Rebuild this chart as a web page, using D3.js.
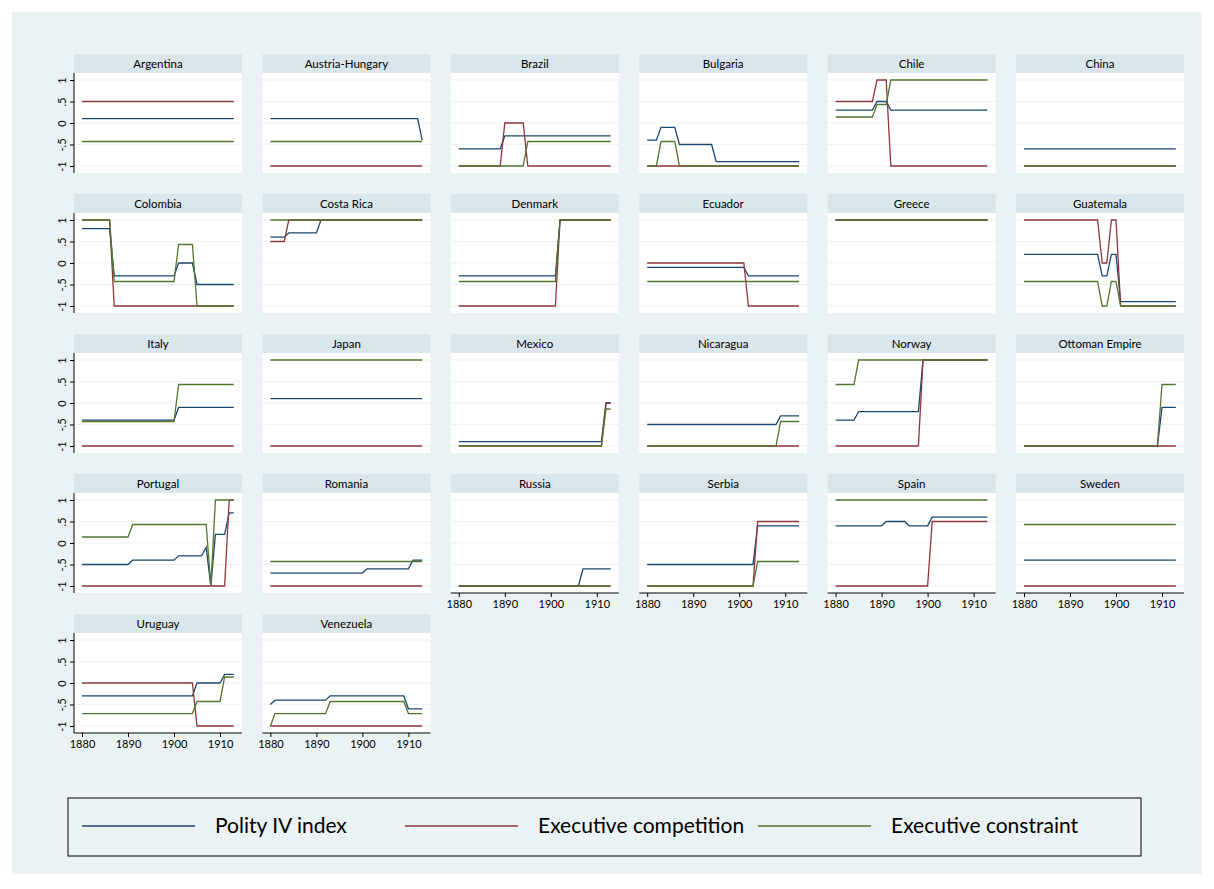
<!DOCTYPE html>
<head>
  <meta charset="utf-8">
  <script src="https://d3js.org/d3.v7.min.js"></script>
  <style>
    body { margin:0; background:#fff; }
    text { font-family: Lato, "Open Sans", sans-serif; }
  </style>
</head>
<body>
<script>
// panels, in the order they are drawn (6 per row)
var countries = ["Argentina","Austria-Hungary","Brazil","Bulgaria","Chile","China",
  "Colombia","Costa Rica","Denmark","Ecuador","Greece","Guatemala",
  "Italy","Japan","Mexico","Nicaragua","Norway","Ottoman Empire",
  "Portugal","Romania","Russia","Serbia","Spain","Sweden",
  "Uruguay","Venezuela"];

// each series is a list of runs: [fromYear, toYear, value]
var polity = [
  [[1880,1913,0.1]],
  [[1880,1912,0.1],[1913,1913,-0.4]],
  [[1880,1889,-0.6],[1890,1913,-0.3]],
  [[1880,1882,-0.4],[1883,1886,-0.1],[1887,1894,-0.5],[1895,1913,-0.9]],
  [[1880,1888,0.3],[1889,1891,0.5],[1892,1913,0.3]],
  [[1880,1913,-0.6]],
  [[1880,1886,0.8],[1887,1900,-0.3],[1901,1904,0],[1905,1913,-0.5]],
  [[1880,1883,0.6],[1884,1890,0.7],[1891,1913,1]],
  [[1880,1901,-0.3],[1902,1913,1]],
  [[1880,1901,-0.1],[1902,1913,-0.3]],
  [[1880,1913,1]],
  [[1880,1896,0.2],[1897,1898,-0.3],[1899,1900,0.2],[1901,1913,-0.9]],
  [[1880,1900,-0.4],[1901,1913,-0.1]],
  [[1880,1913,0.1]],
  [[1880,1911,-0.9],[1912,1913,0]],
  [[1880,1908,-0.5],[1909,1913,-0.3]],
  [[1880,1884,-0.4],[1885,1898,-0.2],[1899,1913,1]],
  [[1880,1909,-1],[1910,1913,-0.1]],
  [[1880,1890,-0.5],[1891,1900,-0.4],[1901,1906,-0.3],[1907,1907,-0.1],[1908,1908,-1],[1909,1911,0.2],[1912,1913,0.7]],
  [[1880,1900,-0.7],[1901,1910,-0.6],[1911,1913,-0.4]],
  [[1880,1906,-1],[1907,1913,-0.6]],
  [[1880,1903,-0.5],[1904,1913,0.4]],
  [[1880,1890,0.4],[1891,1895,0.5],[1896,1900,0.4],[1901,1913,0.6]],
  [[1880,1913,-0.4]],
  [[1880,1904,-0.3],[1905,1910,0],[1911,1913,0.2]],
  [[1880,1880,-0.5],[1881,1892,-0.4],[1893,1909,-0.3],[1910,1913,-0.6]]
];

var execComp = [
  [[1880,1913,0.5]],
  [[1880,1913,-1]],
  [[1880,1889,-1],[1890,1894,0],[1895,1913,-1]],
  [[1880,1913,-1]],
  [[1880,1888,0.5],[1889,1891,1],[1892,1913,-1]],
  [[1880,1913,-1]],
  [[1880,1886,1],[1887,1913,-1]],
  [[1880,1883,0.5],[1884,1913,1]],
  [[1880,1901,-1],[1902,1913,1]],
  [[1880,1901,0],[1902,1913,-1]],
  [[1880,1913,1]],
  [[1880,1896,1],[1897,1898,0],[1899,1900,1],[1901,1913,-1]],
  [[1880,1913,-1]],
  [[1880,1913,-1]],
  [[1880,1911,-1],[1912,1913,0]],
  [[1880,1913,-1]],
  [[1880,1898,-1],[1899,1913,1]],
  [[1880,1913,-1]],
  [[1880,1911,-1],[1912,1913,1]],
  [[1880,1913,-1]],
  [[1880,1913,-1]],
  [[1880,1903,-1],[1904,1913,0.5]],
  [[1880,1900,-1],[1901,1913,0.5]],
  [[1880,1913,-1]],
  [[1880,1904,0],[1905,1913,-1]],
  [[1880,1913,-1]]
];

var execConstr = [
  [[1880,1913,-0.43]],
  [[1880,1913,-0.43]],
  [[1880,1894,-1],[1895,1913,-0.43]],
  [[1880,1882,-1],[1883,1886,-0.43],[1887,1913,-1]],
  [[1880,1888,0.14],[1889,1891,0.43],[1892,1913,1]],
  [[1880,1913,-1]],
  [[1880,1886,1],[1887,1900,-0.43],[1901,1904,0.43],[1905,1913,-1]],
  [[1880,1913,1]],
  [[1880,1901,-0.43],[1902,1913,1]],
  [[1880,1913,-0.43]],
  [[1880,1913,1]],
  [[1880,1896,-0.43],[1897,1898,-1],[1899,1900,-0.43],[1901,1913,-1]],
  [[1880,1900,-0.43],[1901,1913,0.43]],
  [[1880,1913,1]],
  [[1880,1911,-1],[1912,1913,-0.14]],
  [[1880,1908,-1],[1909,1913,-0.43]],
  [[1880,1884,0.43],[1885,1913,1]],
  [[1880,1909,-1],[1910,1913,0.43]],
  [[1880,1890,0.14],[1891,1907,0.43],[1908,1908,-1],[1909,1913,1]],
  [[1880,1913,-0.43]],
  [[1880,1913,-1]],
  [[1880,1903,-1],[1904,1913,-0.43]],
  [[1880,1913,1]],
  [[1880,1913,0.43]],
  [[1880,1904,-0.71],[1905,1910,-0.43],[1911,1913,0.14]],
  [[1880,1880,-1],[1881,1892,-0.71],[1893,1909,-0.43],[1910,1913,-0.71]]
];

var seriesNames = ["Polity IV index", "Executive competition", "Executive constraint"];
var seriesColors = ["#1a476f", "#90353b", "#55752f"];
var allSeries = [polity, execComp, execConstr];

var xTicks = [1880, 1890, 1900, 1910];
var yTicks = [-1, -0.5, 0, 0.5, 1];
var yTickLabels = ["-1", "-.5", "0", ".5", "1"];

var width = 1214, height = 889;
var ncol = 6;
var plotW = 168, plotH = 100, headH = 19;
var left0 = 74, top0 = 73, colStep = 188.4, rowStep = 140;

var svg = d3.select("body").append("svg")
  .attr("width", width)
  .attr("height", height);

svg.append("rect")
  .attr("x", 12).attr("y", 12)
  .attr("width", 1190).attr("height", 862)
  .attr("fill", "#eaf2f3");

var x = d3.scaleLinear().domain([1878.26, 1914.78]).range([0, plotW]);
var y = d3.scaleLinear().domain([-1.163, 1.163]).range([plotH, 0]);

// turn runs into the points the line goes through
function runPoints(runs) {
  var pts = [];
  runs.forEach(function(r) {
    pts.push([r[0], r[2]]);
    if (r[1] !== r[0]) pts.push([r[1], r[2]]);
  });
  return pts;
}

var line = d3.line()
  .x(function(d) { return x(d[0]); })
  .y(function(d) { return y(d[1]); });

var n = countries.length;

countries.forEach(function(name, i) {
  var col = i % ncol, row = Math.floor(i / ncol);
  var g = svg.append("g")
    .attr("transform", "translate(" + (left0 + col * colStep) + "," + (top0 + row * rowStep) + ")");

  g.append("rect")
    .attr("x", 0).attr("y", -headH)
    .attr("width", plotW).attr("height", headH)
    .attr("fill", "#d9e6eb");
  g.append("text")
    .attr("x", plotW / 2).attr("y", -5)
    .attr("text-anchor", "middle")
    .style("font-size", "11.5px")
    .text(name);

  g.append("rect")
    .attr("width", plotW).attr("height", plotH)
    .attr("fill", "#fff");

  g.selectAll(".grid")
    .data(yTicks)
    .enter().append("line")
    .attr("x1", 0).attr("x2", plotW)
    .attr("y1", function(d) { return y(d); })
    .attr("y2", function(d) { return y(d); })
    .attr("stroke", "#eaf2f3")
    .attr("stroke-width", 1.2);

  allSeries.forEach(function(s, k) {
    g.append("path")
      .datum(runPoints(s[i]))
      .attr("d", line)
      .attr("fill", "none")
      .attr("stroke", seriesColors[k])
      .attr("stroke-width", 1.3);
  });

  if (col === 0) {
    var ya = g.append("g")
      .call(d3.axisLeft(y).tickValues(yTicks).tickSize(4)
        .tickFormat(function(d, j) { return yTickLabels[j]; }));
    ya.select(".domain").attr("d", "M0,0V" + plotH);
    ya.selectAll("text")
      .attr("transform", "rotate(-90)")
      .attr("x", 0).attr("y", -8).attr("dy", 0)
      .style("text-anchor", "middle")
      .style("font-size", "11px")
      .style("font-family", "Lato, sans-serif");
  }

  // x axis on the lowest panel of each column
  if (i + ncol >= n) {
    var xa = g.append("g")
      .attr("transform", "translate(0," + plotH + ")")
      .call(d3.axisBottom(x).tickValues(xTicks).tickSize(4).tickFormat(d3.format("d")));
    xa.select(".domain").attr("d", "M0,0H" + plotW);
    xa.selectAll("text")
      .style("font-size", "11px")
      .style("font-family", "Lato, sans-serif");
  }
});

// legend
var leg = svg.append("g").attr("transform", "translate(68,798)");
leg.append("rect")
  .attr("width", 1073).attr("height", 58)
  .attr("fill", "#eaf2f3")
  .attr("stroke", "#000").attr("stroke-width", 1);

var legX = [14, 337, 690];
seriesNames.forEach(function(nm, k) {
  leg.append("line")
    .attr("x1", legX[k]).attr("x2", legX[k] + 113)
    .attr("y1", 28).attr("y2", 28)
    .attr("stroke", seriesColors[k]).attr("stroke-width", 1.5);
  leg.append("text")
    .attr("x", legX[k] + 133).attr("y", 35)
    .style("font-size", "21px")
    .text(nm);
});
</script>
</body>
